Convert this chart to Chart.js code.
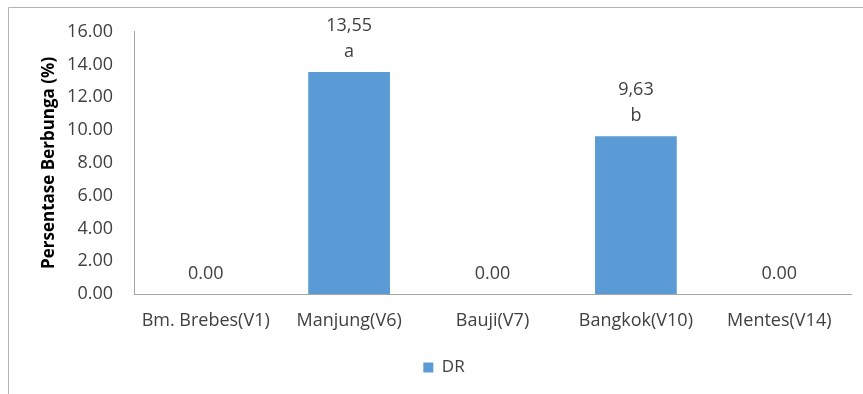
<!DOCTYPE html>
<html>
<head>
<meta charset="utf-8">
<script src="https://cdn.jsdelivr.net/npm/chart.js@4.4.1/dist/chart.umd.min.js"></script>
<style>
  html, body { margin: 0; padding: 0; background: #ffffff; }
  #wrap { width: 863px; height: 394px; }
</style>
</head>
<body>
<div id="wrap"><canvas id="chart" width="863" height="394"></canvas></div>
<script>
// Flowering percentage per variety
const categories = ['Bm. Brebes(V1)', 'Manjung(V6)', 'Bauji(V7)', 'Bangkok(V10)', 'Mentes(V14)'];
const drValues = [0, 13.55, 0, 9.63, 0];
const valueLabels = ['0.00', '13,55', '0.00', '9,63', '0.00'];
const letterLabels = ['', 'a', '', 'b', ''];
const yTicks = [0, 2, 4, 6, 8, 10, 12, 14, 16];

const FONT = "'Open Sans', 'Lato', sans-serif";
const TEXT = '#404040';
const AXIS = '#a6a6a6';
const PAD_LEFT = 37;

// Outer frame (top and left edges of the chart box)
const framePlugin = {
  id: 'frame',
  beforeDraw(chart) {
    const ctx = chart.ctx;
    ctx.save();
    ctx.strokeStyle = '#b4b4b4';
    ctx.lineWidth = 1;
    ctx.beginPath();
    ctx.moveTo(8.5, chart.height);
    ctx.lineTo(8.5, 7.5);
    ctx.lineTo(chart.width, 7.5);
    ctx.stroke();
    ctx.restore();
  }
};

// Value and letter labels above each bar
const barLabelPlugin = {
  id: 'barLabels',
  afterDatasetsDraw(chart) {
    const ctx = chart.ctx;
    const meta = chart.getDatasetMeta(0);
    ctx.save();
    ctx.fillStyle = TEXT;
    ctx.font = '18px ' + FONT;
    ctx.textAlign = 'center';
    ctx.textBaseline = 'middle';
    meta.data.forEach((bar, i) => {
      const lines = [valueLabels[i]];
      if (letterLabels[i]) lines.push(letterLabels[i]);
      let y = bar.y - 20.5;
      for (let k = lines.length - 1; k >= 0; k--) {
        ctx.fillText(lines[k], bar.x, y);
        y -= 26;
      }
    });
    ctx.restore();
  }
};

new Chart(document.getElementById('chart'), {
  type: 'bar',
  data: {
    labels: categories,
    datasets: [{
      label: 'DR',
      data: drValues,
      backgroundColor: '#5b9bd5',
      borderWidth: 0,
      categoryPercentage: 0.57,
      barPercentage: 1.0
    }]
  },
  options: {
    responsive: false,
    animation: false,
    layout: { padding: { top: 30, left: PAD_LEFT, right: 12, bottom: 8 } },
    plugins: {
      legend: {
        position: 'bottom',
        labels: {
          boxWidth: 10,
          boxHeight: 10,
          color: TEXT,
          font: { family: FONT, size: 17 }
        }
      },
      tooltip: { enabled: false }
    },
    scales: {
      x: {
        grid: { display: false, drawTicks: false },
        border: { display: true, color: AXIS, width: 1 },
        ticks: {
          color: TEXT,
          font: { family: FONT, size: 18 },
          padding: 16,
          maxRotation: 0,
          autoSkip: false
        },
        afterFit(scale) { scale.height = 55; }
      },
      y: {
        min: 0,
        max: 16,
        afterBuildTicks(scale) { scale.ticks = yTicks.map(v => ({ value: v })); },
        grid: { display: false, drawTicks: false },
        border: { display: true, color: AXIS, width: 1 },
        ticks: {
          color: TEXT,
          font: { family: FONT, size: 18 },
          padding: 21,
          callback: v => Number(v).toFixed(2)
        },
        title: {
          display: true,
          text: 'Persentase Berbunga (%)',
          color: '#000000',
          font: { family: FONT, size: 17, weight: 'bold' },
          padding: { top: 2, bottom: 0 }
        },
        afterFit(scale) { scale.width = 134 - PAD_LEFT; }
      }
    }
  },
  plugins: [framePlugin, barLabelPlugin]
});
</script>
</body>
</html>
